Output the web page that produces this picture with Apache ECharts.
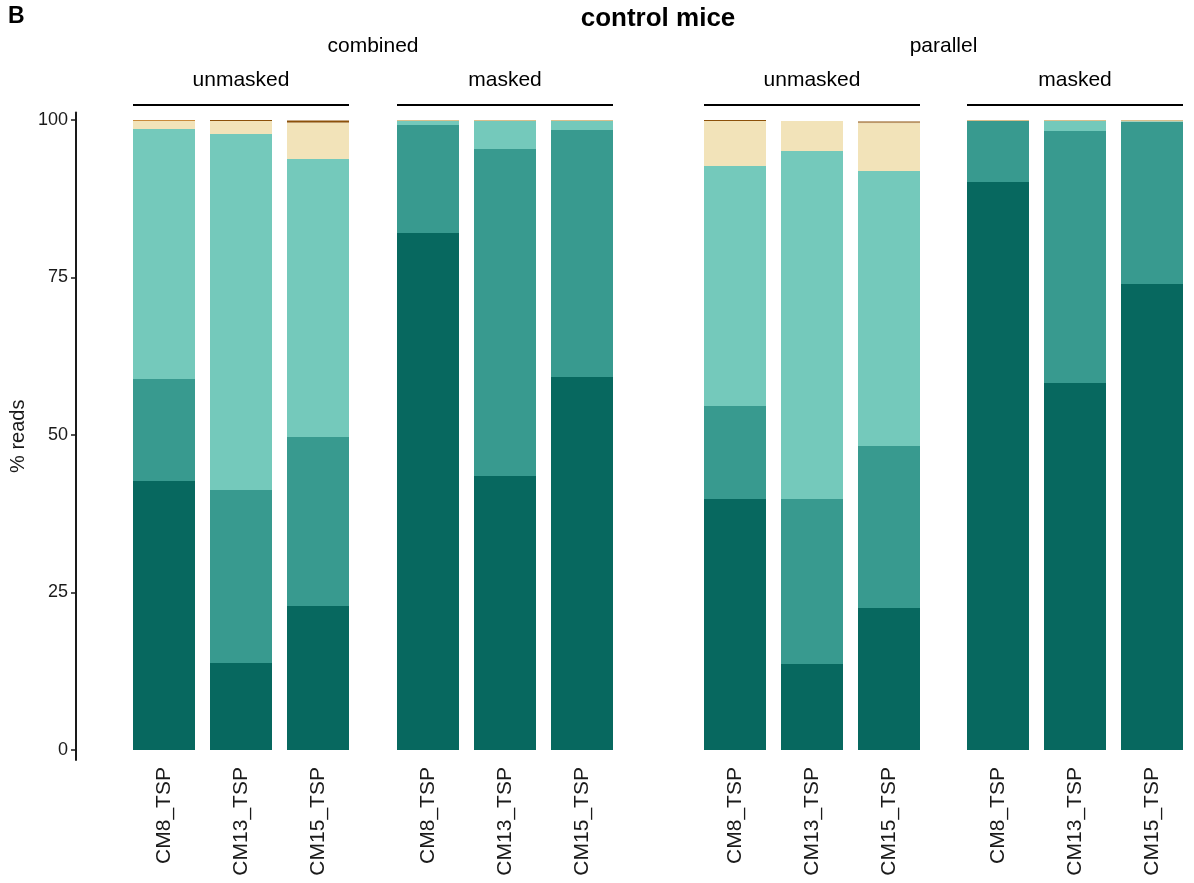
<!DOCTYPE html>
<html>
<head>
<meta charset="utf-8">
<script src="https://cdn.jsdelivr.net/npm/echarts@6/dist/echarts.min.js"></script>
<style>
  html, body { margin: 0; padding: 0; background: #fff; }
  #chart { width: 1194px; height: 883px; }
</style>
</head>
<body>
<div id="chart"></div>
<script>
// Samples shown in every panel
const samples = ['CM8_TSP', 'CM13_TSP', 'CM15_TSP'];

// Panels, left to right: pipeline / masking
const pipelines = ['combined', 'parallel'];
const maskings = ['unmasked', 'masked'];

// % reads per stacked segment, 12 values each:
// combined-unmasked (CM8, CM13, CM15), combined-masked, parallel-unmasked, parallel-masked
const segDark   = [42.70, 13.81, 22.86, 82.06, 43.49, 59.21, 39.84, 13.65, 22.54, 90.16, 58.25, 73.97];
const segMedium = [16.19, 27.46, 26.82, 17.15, 51.91, 39.20, 14.76, 26.19, 25.71,  9.68, 40.00, 25.71];
const segLight  = [39.68, 56.51, 44.13,  0.63,  4.44,  1.43, 38.10, 55.24, 43.65,  0.00,  1.59,  0.10];
const segBeige  = [ 1.27,  2.06,  5.70,  0.00,  0.00,  0.00,  7.14,  4.76,  7.58,  0.00,  0.00,  0.00];
const segTan    = [ 0.00,  0.00,  0.10,  0.16,  0.16,  0.16,  0.00,  0.00,  0.10,  0.16,  0.16,  0.20];
const segOrange = [ 0.16,  0.00,  0.00,  0.00,  0.00,  0.00,  0.00,  0.00,  0.00,  0.00,  0.00,  0.00];
const segBrown  = [ 0.00,  0.16,  0.30,  0.00,  0.00,  0.00,  0.16,  0.00,  0.16,  0.00,  0.00,  0.00];

// Y axis
const yTicks = [0, 25, 50, 75, 100];
const yMin = -1.6, yMax = 101.2;

const segments = [
  { data: segDark,   color: '#07685f' },
  { data: segMedium, color: '#389a8f' },
  { data: segLight,  color: '#74c9bb' },
  { data: segBeige,  color: '#f2e3b9' },
  { data: segTan,    color: '#d9bf8c' },
  { data: segOrange, color: '#c98a3b' },
  { data: segBrown,  color: '#8c510a' }
];

const FONT = '"Liberation Sans", Arial, Helvetica, sans-serif';
const INK = '#1a1a1a';

// layout
const gridTop = 112.4, gridHeight = 647.7;
const panelLefts = [125.5, 389.5, 696.5, 959.5];
const panelWidth = 231;
const barW = 62;
const axisX = 76;

const grids = [], xAxes = [], yAxes = [], series = [];
panelLefts.forEach((left, p) => {
  grids.push({ left: left, top: gridTop, width: panelWidth, height: gridHeight, containLabel: false });
  xAxes.push({
    type: 'category', gridIndex: p, data: samples,
    axisLine: { show: false }, axisTick: { show: false },
    axisLabel: { rotate: 90, margin: 7, fontSize: 21, color: INK, fontFamily: FONT, interval: 0 }
  });
  const yAx = {
    type: 'value', gridIndex: p, min: yMin, max: yMax,
    splitLine: { show: false },
    axisLine: { show: p === 0, lineStyle: { color: INK, width: 2 } },
    axisTick: { show: p === 0, customValues: yTicks, length: 5, lineStyle: { color: INK, width: 1.5 } },
    axisLabel: { show: p === 0, customValues: yTicks, margin: 8, fontSize: 18, color: INK, fontFamily: FONT }
  };
  if (p === 0) {
    yAx.offset = left - axisX;
    yAx.name = '% reads';
    yAx.nameLocation = 'middle';
    yAx.nameGap = 48;
    yAx.nameRotate = 90;
    yAx.nameTextStyle = { fontSize: 20, color: INK, fontFamily: FONT };
  }
  yAxes.push(yAx);
  segments.forEach((seg) => {
    series.push({
      type: 'bar', xAxisIndex: p, yAxisIndex: p, stack: 'panel' + p,
      barWidth: barW, silent: true,
      itemStyle: { color: seg.color },
      data: seg.data.slice(p * 3, p * 3 + 3)
    });
  });
});

// facet headers
const graphics = [];
graphics.push({ type: 'text', left: 8, top: 5, style: { text: 'B', font: 'bold 23px ' + FONT, fill: '#000' } });
graphics.push({ type: 'text', x: 658, y: 19, style: { text: 'control mice', font: 'bold 26px ' + FONT, fill: '#000', align: 'center', verticalAlign: 'middle' } });
pipelines.forEach((name, i) => {
  const l = panelLefts[i * 2] + 7.5, r = panelLefts[i * 2 + 1] + panelWidth - 7.5;
  graphics.push({ type: 'text', x: (l + r) / 2, y: 46, style: { text: name, font: '21px ' + FONT, fill: '#000', align: 'center', verticalAlign: 'middle' } });
});
panelLefts.forEach((left, p) => {
  const l = left + (panelWidth / 3 - barW) / 2, r = left + panelWidth - (panelWidth / 3 - barW) / 2;
  graphics.push({ type: 'text', x: (l + r) / 2, y: 80, style: { text: maskings[p % 2], font: '21px ' + FONT, fill: '#000', align: 'center', verticalAlign: 'middle' } });
  graphics.push({ type: 'line', shape: { x1: l, y1: 105, x2: r, y2: 105 }, style: { stroke: '#000', lineWidth: 2 } });
});

const chart = echarts.init(document.getElementById('chart'), null, { renderer: 'canvas' });
chart.setOption({
  animation: false,
  backgroundColor: '#fff',
  grid: grids, xAxis: xAxes, yAxis: yAxes, series: series,
  graphic: graphics
});
</script>
</body>
</html>
